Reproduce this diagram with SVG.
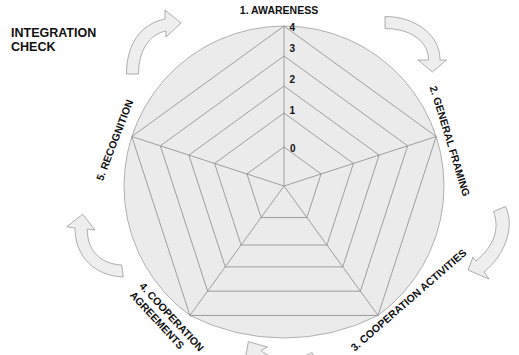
<svg xmlns="http://www.w3.org/2000/svg" width="519" height="355" viewBox="0 0 519 355">
<style>
text{font-family:"Liberation Sans",Arial,sans-serif;font-weight:bold;fill:#111}
.lbl{font-size:10.5px}
.num{font-size:10px}
.grid{fill:none;stroke:#8a8a8a;stroke-width:0.8}
.arr{fill:#eeeeee;stroke:#9a9a9a;stroke-width:0.8;stroke-linejoin:round}
</style>
<rect width="519" height="355" fill="#ffffff"/>
<g id="title">
<text x="11" y="36.5" font-size="12.5">INTEGRATION</text>
<text x="11" y="50.5" font-size="12.5">CHECK</text>
</g>
<g id="radar">
<path d="M189.95,315.44 A160,160 0 1,1 378.05,315.44 A207,207 0 0,1 189.95,315.44 Z" fill="#ebebeb" stroke="#a8a8a8" stroke-width="0.9"/>
<polygon class="grid" points="284,26 436.18,136.56 378.05,315.44 189.95,315.44 131.82,136.56"/>
<polygon class="grid" points="284,56 407.64,145.83 360.41,291.17 207.59,291.17 160.36,145.83"/>
<polygon class="grid" points="284,86 379.11,155.1 342.78,266.9 225.22,266.9 188.89,155.1"/>
<polygon class="grid" points="284,113 353.43,163.44 326.91,245.06 241.09,245.06 214.57,163.44"/>
<polygon class="grid" points="284,147 321.09,173.95 306.92,217.55 261.08,217.55 246.91,173.95"/>
<path class="grid" d="M284,186 L284,26 M284,186 L436.18,136.56 M284,186 L378.05,315.44 M284,186 L189.95,315.44 M284,186 L131.82,136.56"/>
<g id="scale" class="num">
<text x="289.5" y="30.5">4</text>
<text x="289.5" y="52">3</text>
<text x="289.5" y="83">2</text>
<text x="289.5" y="113.5">1</text>
<text x="290" y="151.5">0</text>
</g>
</g>
<g id="node-1"><text class="lbl" x="279" y="14" text-anchor="middle">1. AWARENESS</text></g>
<g id="node-2" transform="translate(450,141) rotate(73)"><text class="lbl" x="0" y="3.8" text-anchor="middle">2. GENERAL FRAMING</text></g>
<g id="node-3" transform="translate(408.5,300) rotate(-41)"><text class="lbl" x="0" y="3.8" text-anchor="middle">3. COOPERATION ACTIVITIES</text></g>
<g id="node-4" transform="translate(141.5,284) rotate(47.3)"><text class="lbl" x="0" y="3.8">4. COOPERATION</text><text class="lbl" x="0" y="16.8">AGREEMENTS</text></g>
<g id="node-5" transform="translate(114.5,140) rotate(-69)"><text class="lbl" x="0" y="3.8" text-anchor="middle">5. RECOGNITION</text></g>
<g id="connectors">
<path class="arr" d="M126.5,74 C126.5,45 140,24 165,19 L165,10 L181,23 L166,37 L166,31 C150,34 138.5,50 138.5,74 Z"/>
<path class="arr" d="M385,16.5 C413,16.5 440,33 440,60 L446.5,60 L432.5,72 L418,60 L428.5,60 C428.5,41 410,28.5 385,28.5 Z"/>
<path class="arr" d="M505.5,206.5 C515,226 506,254 484,272 L489,279 L468,270 L473,257 L476,261 C494,246 500,229 493.5,211.5 Z"/>
<path class="arr" d="M248.3,341.7 L267.5,347 L261,350.5 C275,362 295,362 312,352.5 L318,364 C295,378 265,375 251,357 L245,361 Z"/>
<path class="arr" d="M82.7,214.3 L95,230 L87.3,229 C87,250 100,264 121.7,265 L123.3,277 C95,276 75,257 75,228 L66.7,226.7 Z"/>
</g>
</svg>
